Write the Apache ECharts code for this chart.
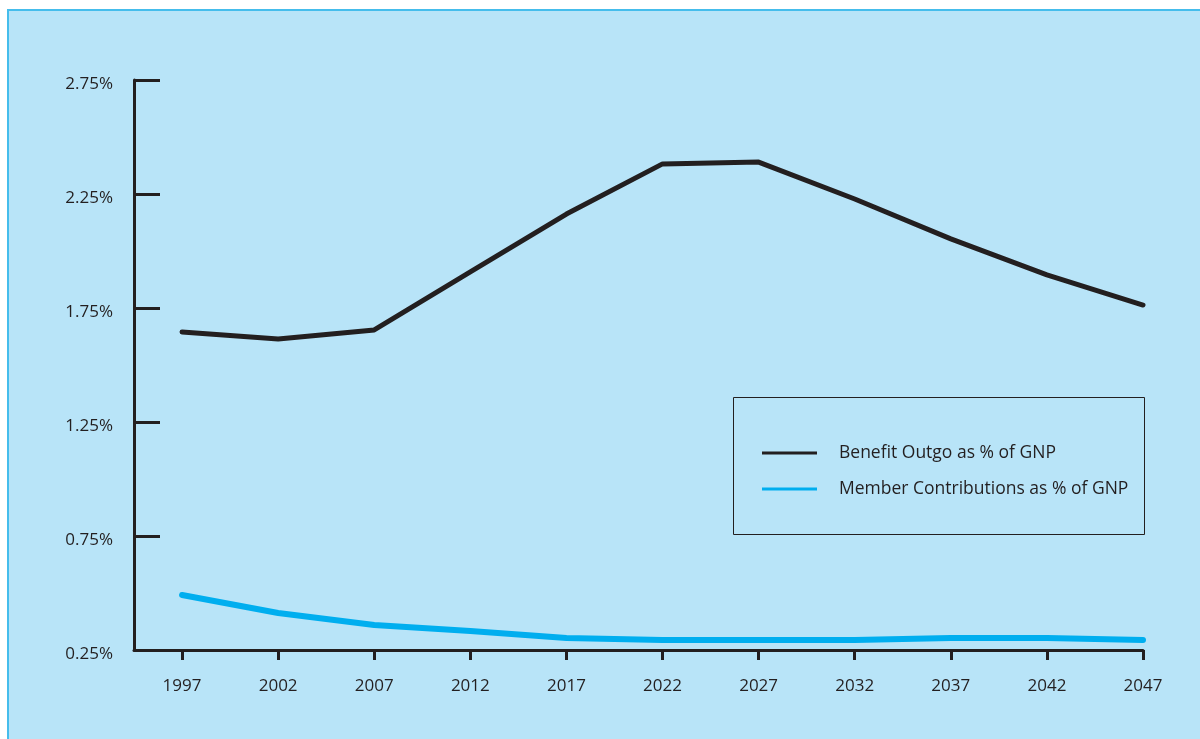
<!DOCTYPE html>
<html>
<head>
<meta charset="utf-8">
<script src="https://cdn.jsdelivr.net/npm/echarts@6/dist/echarts.min.js"></script>
<style>
  html, body { margin: 0; padding: 0; background: #ffffff; }
  #chart { width: 1200px; height: 739px; }
</style>
</head>
<body>
<div id="chart"></div>
<script>
// Projection years
const years = [1997, 2002, 2007, 2012, 2017, 2022, 2027, 2032, 2037, 2042, 2047];
// Benefit outgo as % of GNP
const benefitOutgo = [1.645, 1.614, 1.654, 1.908, 2.162, 2.382, 2.390, 2.228, 2.053, 1.895, 1.763];
// Member contributions as % of GNP
const memberContributions = [0.491, 0.412, 0.360, 0.333, 0.303, 0.294, 0.294, 0.294, 0.303, 0.303, 0.294];
// Y-axis tick values
const yTicks = [0.25, 0.75, 1.25, 1.75, 2.25, 2.75];

const seriesNames = ['Benefit Outgo as % of GNP', 'Member Contributions as % of GNP'];
const ink = '#231F20';
const cyan = '#00AEEF';
const font = 'Open Sans';

const chart = echarts.init(document.getElementById('chart'), null, { renderer: 'canvas' });

chart.setOption({
  animation: false,
  backgroundColor: '#ffffff',
  graphic: [
    {
      type: 'rect', z: -10, silent: true,
      shape: { x: 8, y: 10, width: 1200, height: 740 },
      style: { fill: '#B8E4F8', stroke: '#45BDEC', lineWidth: 2 }
    },
    {
      type: 'rect', z: 10, silent: true,
      shape: { x: 733.5, y: 397.5, width: 411, height: 137 },
      style: { fill: 'transparent', stroke: ink, lineWidth: 1 }
    }
  ],
  grid: { left: 134, right: 57, top: 80, bottom: 89, containLabel: false },
  legend: {
    left: 757, top: 438,
    orient: 'vertical',
    itemWidth: 55, itemHeight: 20, itemGap: 16,
    icon: 'path://M0,0 L55,0 L55,3 L0,3 Z',
    textStyle: { color: ink, fontFamily: font, fontSize: 17.5, padding: [0, 0, 0, 17], lineHeight: 20 },
    data: [
      { name: seriesNames[0], itemStyle: { color: ink } },
      { name: seriesNames[1], itemStyle: { color: cyan } }
    ]
  },
  xAxis: {
    type: 'value',
    min: 1994.5, max: 2047,
    splitLine: { show: false },
    axisLine: { show: true, lineStyle: { color: ink, width: 3 } },
    axisTick: { show: true, customValues: years, length: 10, lineStyle: { color: ink, width: 3 } },
    axisLabel: {
      customValues: years, margin: 28,
      color: ink, fontFamily: font, fontSize: 17,
      formatter: v => String(v)
    }
  },
  yAxis: {
    type: 'value',
    min: yTicks[0], max: yTicks[yTicks.length - 1], interval: 0.5,
    splitLine: { show: false },
    axisLine: { show: true, lineStyle: { color: ink, width: 3 } },
    axisTick: { show: true, inside: true, length: 26, lineStyle: { color: ink, width: 3 } },
    axisLabel: {
      margin: 21, color: ink, fontFamily: font, fontSize: 17,
      verticalAlign: 'top', lineHeight: 8,
      formatter: v => v.toFixed(2) + '%'
    }
  },
  series: [
    {
      name: seriesNames[0], type: 'line',
      data: years.map((y, i) => [y, benefitOutgo[i]]),
      symbol: 'none',
      lineStyle: { color: ink, width: 5, cap: 'round', join: 'round' },
      itemStyle: { color: ink }
    },
    {
      name: seriesNames[1], type: 'line',
      data: years.map((y, i) => [y, memberContributions[i]]),
      symbol: 'none',
      lineStyle: { color: cyan, width: 6, cap: 'round', join: 'round' },
      itemStyle: { color: cyan }
    }
  ]
});
</script>
</body>
</html>
